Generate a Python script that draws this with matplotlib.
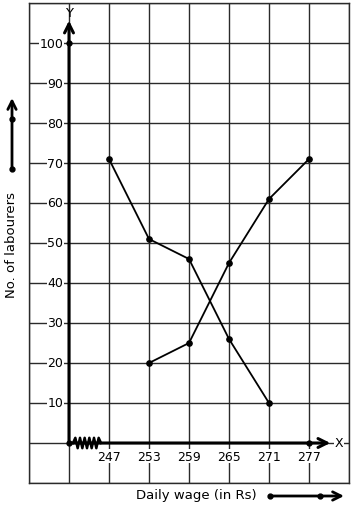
import matplotlib
matplotlib.use('Agg')
import matplotlib.pyplot as plt
import numpy as np

# Data
wage_ticks = [247, 253, 259, 265, 271, 277]
less_x = [247, 253, 259, 265, 271]
less_y = [71, 51, 46, 26, 10]
more_x = [253, 259, 265, 271, 277]
more_y = [20, 25, 45, 61, 71]
y_ticks = [10, 20, 30, 40, 50, 60, 70, 80, 90, 100]

W, H = 354, 510
fig = plt.figure(figsize=(W / 100, H / 100), dpi=100)
ax = fig.add_axes([29 / W, 1 - 484 / H, 320 / W, 480 / H])
ax.set_xlim(235, 283)
ax.set_ylim(-10, 110)
ax.set_xticks([])
ax.set_yticks([])
grid_c = '#2a2a2a'
for s in ax.spines.values():
    s.set_color(grid_c)
    s.set_linewidth(1.0)
for gx in np.arange(235, 284, 6):
    ax.axvline(gx, color=grid_c, lw=1.0, zorder=1)
for gy in range(-10, 111, 10):
    ax.axhline(gy, color=grid_c, lw=1.0, zorder=1)

origin_x = 241
# axes with arrows
ax.annotate('', xy=(origin_x, 105.6), xytext=(origin_x, 0),
            arrowprops=dict(arrowstyle='->', lw=2.2, color='black', mutation_scale=16,
                            shrinkA=0, shrinkB=0), zorder=4)
ax.annotate('', xy=(280.2, 0), xytext=(origin_x, 0),
            arrowprops=dict(arrowstyle='->', lw=2.2, color='black', mutation_scale=16,
                            shrinkA=0, shrinkB=0), zorder=4)
fig.text(69.5 / W, 1 - 17 / H, 'Y', ha='center', va='baseline', fontsize=9.5, zorder=8)
ax.text(280.85, 0, 'X', ha='left', va='center', fontsize=9, zorder=5,
        bbox=dict(facecolor='white', edgecolor='none', pad=0.3))

# zigzag (axis break)
zx = np.linspace(241.6, 245.8, 13)
zy = np.array([0 if i in (0, 12) else (1.3 if i % 2 else -1.3) for i in range(13)])
ax.plot(zx, zy, color='black', lw=1.8, zorder=5)

# tick labels
for v in y_ticks:
    ax.text(240.15, v, str(v), ha='right', va='center', fontsize=9, zorder=3,
            bbox=dict(facecolor='white', edgecolor='none', pad=0.2))
for w in wage_ticks:
    ax.text(w, -3.3, str(w), ha='center', va='center', fontsize=9, zorder=3,
            bbox=dict(facecolor='white', edgecolor='none', pad=0.2))

# dots on axes
ax.plot([origin_x, origin_x, 277], [100, 0, 0], 'o', color='black', ms=3.5, zorder=6)

# data lines
ax.plot(less_x, less_y, '-o', color='black', lw=1.3, ms=3.8, zorder=6)
ax.plot(more_x, more_y, '-o', color='black', lw=1.3, ms=3.8, zorder=6)

# outer arrows (figure pixels)
def fp(x, y):
    return (x, H - y)

ax.annotate('', xy=fp(12, 99), xytext=fp(12, 170), xycoords='figure pixels',
            textcoords='figure pixels',
            arrowprops=dict(arrowstyle='->', lw=2.0, color='black', mutation_scale=15,
                            shrinkA=0, shrinkB=0), annotation_clip=False)
fig.add_artist(plt.Line2D([12, 12], [H - 170, H - 120], transform=None, marker='o',
                          ms=3.5, lw=0, color='black'))
ax.annotate('', xy=fp(344, 497), xytext=fp(270, 497), xycoords='figure pixels',
            textcoords='figure pixels',
            arrowprops=dict(arrowstyle='->', lw=2.0, color='black', mutation_scale=15,
                            shrinkA=0, shrinkB=0), annotation_clip=False)
fig.add_artist(plt.Line2D([270, 320], [H - 497, H - 497], transform=None, marker='o',
                          ms=3.5, lw=0, color='black'))

fig.text(12 / W, 1 - 245 / H, 'No. of labourers', rotation=90, ha='center', va='center',
         fontsize=9.5)
fig.text(196 / W, 1 - 496 / H, 'Daily wage (in Rs)', ha='center', va='center', fontsize=9.5)

fig.savefig('out.png', dpi=100)
